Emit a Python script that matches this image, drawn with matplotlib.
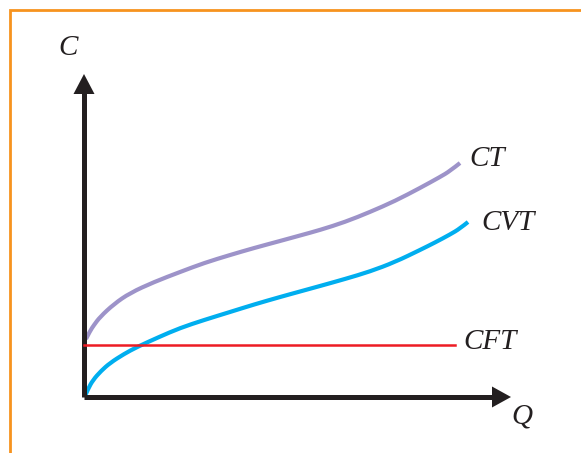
import matplotlib.pyplot as plt
from matplotlib.patches import Rectangle, Polygon, PathPatch
from matplotlib.path import Path

# curve points (Q, C in arbitrary units)
q_cvt = [1, 4, 9, 17, 26, 40, 53, 75, 96, 120, 146, 170, 196, 216, 236, 261, 286, 311, 336, 351, 366, 376, 384]
c_cvt = [1, 8, 17, 26, 34, 43, 50, 60, 69, 77, 85, 92.5, 100, 105.5, 111, 118, 125.5, 135, 147, 154.5, 162.5, 168.5, 175]

q_ct = [2, 6, 10, 16, 30, 46, 70, 96, 120, 146, 170, 196, 216, 236, 261, 286, 311, 336, 356, 366, 376]
c_ct = [58, 66, 72, 80, 93, 104, 115, 125, 134, 142, 149, 156, 161.5, 167, 175, 185, 196, 209, 220, 226, 234]

q_cft = [0, 371]
c_cft = [52, 52]

labels = {"CT": (403, 238), "CVT": (424, 174), "CFT": (406, 55)}


def smooth_curve(ax, xs, ys, **kw):
    # quadratic bezier through midpoints, read points used as control points
    pts = list(zip(xs, ys))
    verts = [pts[0]]
    codes = [Path.MOVETO]
    for i in range(1, len(pts) - 1):
        mid = ((pts[i][0] + pts[i + 1][0]) / 2, (pts[i][1] + pts[i + 1][1]) / 2)
        if i == len(pts) - 2:
            mid = pts[-1]
        verts += [pts[i], mid]
        codes += [Path.CURVE3, Path.CURVE3]
    ax.add_patch(PathPatch(Path(verts, codes), fill=False, capstyle="butt", **kw))


fig = plt.figure(figsize=(5.81, 4.53), dpi=100)
ax = fig.add_axes([0, 0, 1, 1])
ax.set_xlim(-84, 497)
ax.set_ylim(-56, 397)
ax.axis("off")

# orange frame
fig.patches.append(Rectangle((9.7 / 581, -0.1), 1.2, 1.1 - 9.7 / 453, transform=fig.transFigure,
                             fill=False, edgecolor="#f7931e", linewidth=2.0))

black = "#231f20"
ax.plot([0, 0], [0, 308], color=black, lw=3.6, solid_capstyle="butt")
ax.plot([0, 412], [0, 0], color=black, lw=3.6, solid_capstyle="butt")
ax.add_patch(Polygon([[-10.5, 303], [10.5, 303], [0, 323]], closed=True, color=black, lw=0))
ax.add_patch(Polygon([[408, 10.5], [408, -10.5], [427, 0]], closed=True, color=black, lw=0))

ax.plot(q_cft, c_cft, color="#ed1c24", lw=1.8)
smooth_curve(ax, q_cvt, c_cvt, edgecolor="#00aeef", lw=3.0)
smooth_curve(ax, q_ct, c_ct, edgecolor="#9d93c9", lw=3.0)

font = dict(family="Liberation Serif", style="italic", fontsize=21, color=black)
for name, (x, y) in labels.items():
    ax.text(x, y, name, ha="center", va="center", **font)
ax.text(-16, 349, "C", ha="center", va="center", **font)
ax.text(438, -20, "Q", ha="center", va="center", **font)

fig.savefig("out.png", dpi=100)
